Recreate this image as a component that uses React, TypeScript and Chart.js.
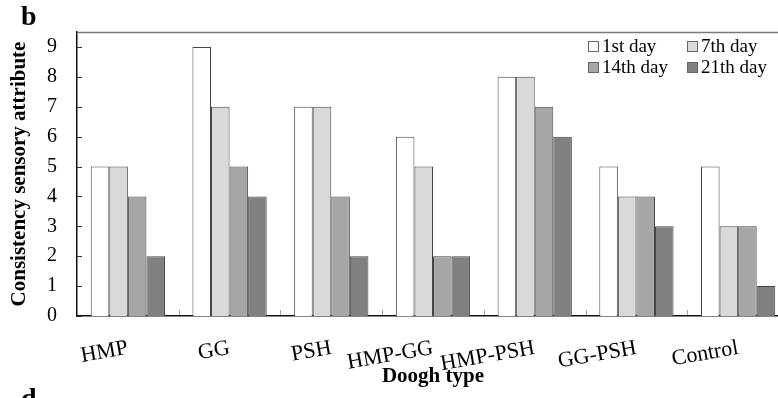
import { useEffect, useRef } from 'react';
import { Chart, registerables } from 'chart.js';

Chart.register(...registerables);

const categories = ['HMP', 'GG', 'PSH', 'HMP-GG', 'HMP-PSH', 'GG-PSH', 'Control'];
const seriesLabels = ['1st day', '7th day', '14th day', '21th day'];
const day1 = [5, 9, 7, 6, 8, 5, 5];
const day7 = [5, 7, 7, 5, 8, 4, 3];
const day14 = [4, 5, 4, 2, 7, 4, 3];
const day21 = [2, 4, 2, 2, 6, 3, 1];
const seriesValues = [day1, day7, day14, day21];
const fills = ['#ffffff', '#d9d9d9', '#a6a6a6', '#808080'];
const yTitle = 'Consistency sensory attribute';
const xTitle = 'Doogh type';
const SERIF = '"Liberation Serif", "Times New Roman", serif';

const decor = {
  id: 'decor',
  afterDraw(chart: any) {
    const { ctx, chartArea: ca, scales } = chart;
    const xs = scales.x;
    const ys = scales.y;
    ctx.save();
    // top frame line
    ctx.strokeStyle = '#7a7a7a';
    ctx.lineWidth = 1.5;
    ctx.beginPath();
    ctx.moveTo(ca.left, ca.top + 0.5);
    ctx.lineTo(ca.right, ca.top + 0.5);
    ctx.stroke();
    // inner y ticks
    ctx.strokeStyle = '#333';
    ctx.lineWidth = 1;
    ctx.beginPath();
    ys.ticks.forEach((t: any) => {
      const py = Math.round(ys.getPixelForValue(t.value)) + 0.5;
      ctx.moveTo(ca.left, py);
      ctx.lineTo(ca.left + 5, py);
    });
    ctx.stroke();
    // inner x ticks at category boundaries
    ctx.strokeStyle = '#a0a0a0';
    ctx.beginPath();
    for (let i = 0; i < categories.length - 1; i++) {
      const px = Math.round((xs.getPixelForValue(i) + xs.getPixelForValue(i + 1)) / 2) + 0.5;
      ctx.moveTo(px, ca.bottom - 1);
      ctx.lineTo(px, ca.bottom - 6);
    }
    ctx.stroke();
    // legend (2 x 2)
    ctx.font = `19px ${SERIF}`;
    ctx.textBaseline = 'middle';
    ctx.textAlign = 'left';
    const legendLeft = ca.left + 511;
    const colW = 99;
    const rowH = 21;
    const legendTop = ca.top + 9;
    chart.data.datasets.forEach((ds: any, i: number) => {
      const col = i % 2;
      const row = Math.floor(i / 2);
      const bx = legendLeft + col * colW;
      const by = legendTop + row * rowH;
      ctx.fillStyle = ds.backgroundColor;
      ctx.fillRect(bx + 0.5, by + 0.5, 10, 10);
      ctx.strokeStyle = '#666';
      ctx.lineWidth = 1;
      ctx.strokeRect(bx + 0.5, by + 0.5, 10, 10);
      ctx.fillStyle = '#000';
      ctx.fillText(ds.label, bx + 14, by + 6);
    });
    // panel letters
    ctx.font = `bold 28px ${SERIF}`;
    ctx.textBaseline = 'alphabetic';
    ctx.fillStyle = '#000';
    ctx.fillText('b', 21, 25);
    ctx.fillText('d', 21, 407);
    ctx.restore();
  },
};

export default function App() {
  const ref = useRef<HTMLCanvasElement>(null);
  useEffect(() => {
    if (!ref.current) return;
    const chart = new Chart(ref.current, {
      type: 'bar',
      data: {
        labels: categories,
        datasets: seriesValues.map((vals, i) => ({
          label: seriesLabels[i],
          data: vals,
          backgroundColor: fills[i],
          borderColor: '#454545',
          borderWidth: 1,
          categoryPercentage: 0.73,
          barPercentage: 1.0,
        })),
      },
      options: {
        responsive: false,
        animation: false,
        layout: { padding: { top: 30, left: 0, right: 0, bottom: 0 } },
        plugins: {
          legend: { display: false },
          tooltip: { enabled: false },
        },
        scales: {
          x: {
            grid: { display: false },
            border: { display: true, color: '#111', width: 1.5 },
            ticks: {
              color: '#000',
              font: { family: SERIF, size: 22 },
              minRotation: 10,
              maxRotation: 10,
              padding: 11,
              autoSkip: false,
            },
            title: {
              display: true,
              text: xTitle,
              color: '#000',
              font: { family: SERIF, size: 21, weight: 'bold' },
              padding: { top: 0, bottom: 9 },
            },
            afterFit: (s: any) => {
              s.height = 82;
            },
          },
          y: {
            min: 0,
            max: 9.5,
            grid: { display: false, drawTicks: false },
            border: { display: true, color: '#111', width: 1.5 },
            ticks: {
              stepSize: 1,
              includeBounds: false,
              color: '#000',
              font: { family: SERIF, size: 20 },
              padding: 20,
            },
            title: {
              display: true,
              text: yTitle,
              color: '#000',
              font: { family: SERIF, size: 21, weight: 'bold' },
              padding: { top: 7, bottom: 0 },
            },
            afterFit: (s: any) => {
              s.width = 77;
            },
          },
        },
      },
      plugins: [decor],
    });
    return () => chart.destroy();
  }, []);
  return (
    <div
      style={{
        position: 'fixed',
        left: 0,
        top: 0,
        width: 778,
        height: 398,
        overflow: 'hidden',
        background: '#fff',
      }}
    >
      <canvas ref={ref} width={789} height={398} style={{ display: 'block' }} />
    </div>
  );
}
